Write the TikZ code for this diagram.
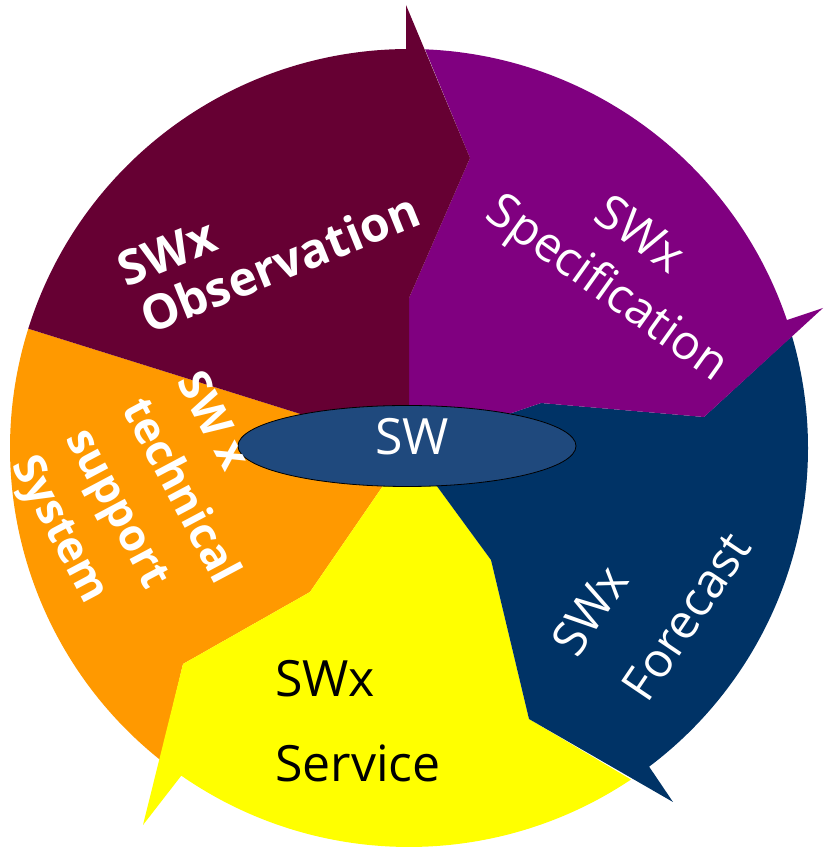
\documentclass[tikz,border=0pt]{standalone}
\usepackage{fontspec}
\usetikzlibrary{shapes.geometric}
\setmainfont{Open Sans}
\definecolor{obscol}{HTML}{660033}
\definecolor{speccol}{HTML}{800080}
\definecolor{forecol}{HTML}{003366}
\definecolor{servcol}{HTML}{FFFF00}
\definecolor{techcol}{HTML}{FF9900}
\definecolor{swcol}{HTML}{1F497D}
\tikzset{
  lbl/.style={inner sep=0pt, text height=0.72em, text depth=0pt},
  wlbl/.style={lbl, text=white},
  bigtxt/.style={font=\fontsize{48}{56}\selectfont},
  boldtxt/.style={font=\fontsize{48}{56}\selectfont\bfseries},
  techtxt/.style={font=\fontsize{44}{50}\selectfont\bfseries},
}
\begin{document}
\begin{tikzpicture}[x=1pt,y=1pt]
\useasboundingbox (0,0) rectangle (823,848);
\coordinate (C) at (409,400);
% vertices
\coordinate (obsTop) at (406,843);
\coordinate (obsTip) at (470,690);
\coordinate (obsBase) at (409,550);
\coordinate (specTip) at (823,540);
\coordinate (specIn) at (704,431);
\coordinate (foreTop) at (541,445);
\coordinate (foreTip) at (673,46);
\coordinate (foreIn) at (529,129);
\coordinate (foreMid) at (491,288);
\coordinate (servTip) at (143,23);
\coordinate (servIn) at (183,184);
\coordinate (servMid) at (310,256);
% technical support (orange)
\fill[techcol] (C) -- (servMid) -- (servIn) -- ([shift={(231.4:399pt)}]C)
  arc[start angle=231.4, end angle=162.6, radius=399pt] -- cycle;
% service (yellow)
\fill[servcol] (C) -- (foreMid) -- (foreIn) -- ([shift={(-56.2:399pt)}]C)
  arc[start angle=-56.2, end angle=-124.8, radius=399pt]
  -- (servTip) -- (servIn) -- (servMid) -- cycle;
% forecast (navy)
\fill[forecol] (C) -- (foreTop) -- (specIn) -- ([shift={(16.3:399pt)}]C)
  arc[start angle=16.3, end angle=-53, radius=399pt]
  -- (foreTip) -- (foreIn) -- (foreMid) -- cycle;
% specification (purple)
\fill[speccol] (C) -- (obsBase) -- (obsTip) -- ([shift={(87.7:399pt)}]C)
  arc[start angle=87.7, end angle=18.7, radius=399pt]
  -- (specTip) -- (specIn) -- (foreTop) -- cycle;
% observation (maroon)
\fill[obscol] (C) -- ([shift={(162.6:399pt)}]C)
  arc[start angle=162.6, end angle=90.4, radius=399pt]
  -- (obsTop) -- (obsTip) -- (obsBase) -- cycle;
% centre ellipse
\node[draw=black, line width=0.8pt, fill=swcol, ellipse, minimum width=338pt, minimum height=81pt, inner sep=0pt] (sw) at (407,402) {};
\node[wlbl, font=\fontsize{50}{58}\selectfont] (swt) at (412,397) {SW};
% labels
\node[wlbl, boldtxt, rotate=22] (obs1) at (172,583) {SWx};
\node[wlbl, boldtxt, rotate=22] (obs2) at (285,572) {Observation};
\node[wlbl, bigtxt, rotate=-35.5] (spec1) at (633,604) {SWx};
\node[wlbl, bigtxt, rotate=-35.5] (spec2) at (601,551) {Specification};
\node[wlbl, bigtxt, rotate=56] (fore1) at (601,230) {SWx};
\node[wlbl, bigtxt, rotate=56] (fore2) at (697,224) {Forecast};
\node[wlbl, techtxt, rotate=-62] (tech1) at (204,422) {SW x};
\node[wlbl, techtxt, rotate=-62] (tech2) at (172,352) {technical};
\node[wlbl, techtxt, rotate=-62] (tech3) at (109,335) {support};
\node[wlbl, techtxt, rotate=-62] (tech4) at (52,314) {System};
\node[inner sep=0pt, anchor=base west, font=\fontsize{50}{58}\selectfont] (serv1) at (275,151) {SWx};
\node[inner sep=0pt, anchor=base west, font=\fontsize{50}{58}\selectfont] (serv2) at (275,66) {Service};
\end{tikzpicture}
\end{document}
